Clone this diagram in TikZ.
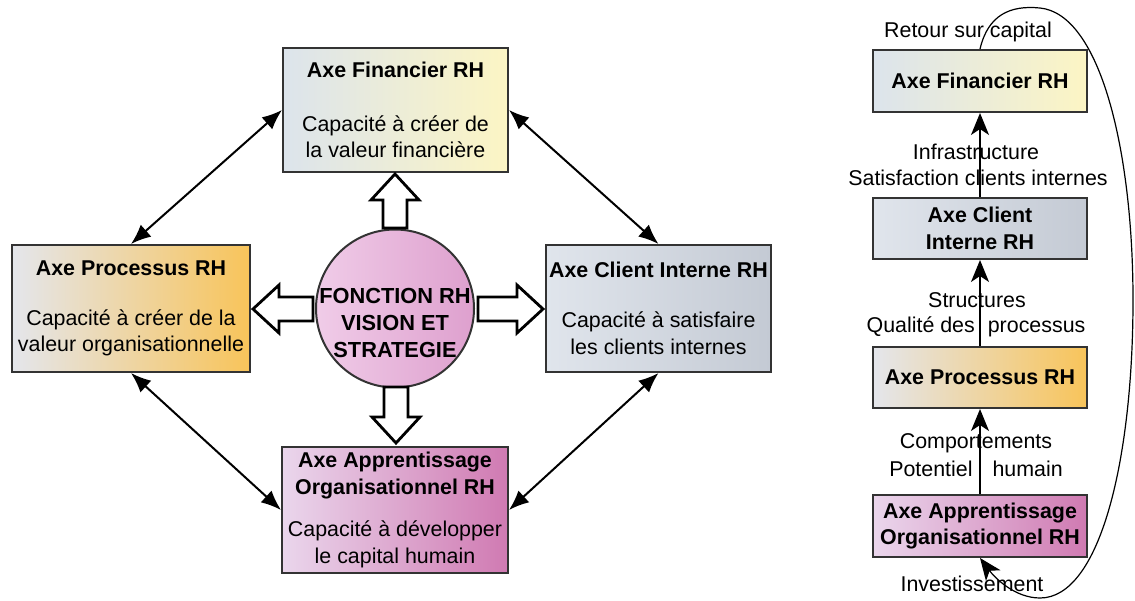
\documentclass[tikz,border=0pt]{standalone}
\usepackage{fontspec}
\setmainfont{Liberation Sans}
\usetikzlibrary{arrows.meta}
\definecolor{HRgray}{RGB}{220,228,236}
\definecolor{HRyellow}{RGB}{252,245,196}
\definecolor{HRgray2}{RGB}{228,230,236}
\definecolor{HRorange}{RGB}{248,196,90}
\definecolor{HRgray3}{RGB}{224,229,236}
\definecolor{HRsteel}{RGB}{196,202,212}
\definecolor{HRlilac}{RGB}{234,214,236}
\definecolor{HRpink}{RGB}{208,122,178}
\definecolor{HRrose}{RGB}{240,204,232}
\definecolor{HRmauve}{RGB}{222,160,206}
\newcommand{\hollowarrow}[3]{
    \draw[hollow, shift={#1}, rotate=#2] (0,0) -- (-26,24) -- (-26,12) -- (-#3,12) -- (-#3,-12) -- (-26,-12) -- (-26,-24) -- cycle;
}
\tikzset{
    axebox/.style={draw=black!80, line width=1pt, inner sep=0pt, align=center, font=\fontsize{10.7}{13.3}\selectfont},
    finfill/.style={left color=HRgray, right color=HRyellow},
    procfill/.style={left color=HRgray2, right color=HRorange},
    clifill/.style={left color=HRgray3, right color=HRsteel},
    appfill/.style={left color=HRlilac, right color=HRpink},
    hollow/.style={draw=black, fill=white, line width=1.4pt, line join=miter},
    link/.style={black, line width=1pt, {Latex[length=10pt,width=8pt]}-{Latex[length=10pt,width=8pt]}},
    uplink/.style={black, line width=0.8pt, -{Stealth[length=11pt,width=9pt,inset=3pt]}},
    feedback/.style={black, line width=0.6pt, -{Stealth[length=11pt,width=9pt,inset=3pt]}},
    flowlabel/.style={inner sep=0pt, font=\fontsize{10.7}{13.3}\selectfont}
}
\begin{document}
\begin{tikzpicture}[x=0.5pt, y=-0.5pt]
\useasboundingbox (0,0) rectangle (1135,600);
%Center
\node[circle, draw=black!80, line width=1pt, left color=HRrose, right color=HRmauve, minimum size=79pt, inner sep=0pt] (hub) at (395,308.5) {};
\node[align=center, inner sep=0pt, font=\fontsize{10.9}{13.3}\selectfont\bfseries] (hubtext) at (395,323) {FONCTION RH\\VISION ET\\STRATEGIE};
%Four axes
\node[axebox, finfill, minimum width=112.5pt, minimum height=62pt] (fin) at (395.5,110) {\textbf{Axe Financier RH}\\[13.5pt]Capacité à créer de\\la valeur financière};
\node[axebox, procfill, minimum width=119pt, minimum height=63.5pt] (proc) at (131,308.5) {\textbf{Axe Processus RH}\\[11.7pt]Capacité à créer de la\\valeur organisationnelle};
\node[axebox, clifill, minimum width=112.5pt, minimum height=63.5pt] (cli) at (658.5,308.5) {\textbf{Axe Client Interne RH}\\[11.7pt]Capacité à satisfaire\\les clients internes};
\node[axebox, appfill, minimum width=113pt, minimum height=63pt] (app) at (395,510) {\textbf{Axe Apprentissage}\\\textbf{Organisationnel RH}\\[7.7pt]Capacité à développer\\le capital humain};
%Block arrows
\hollowarrow{(395,174)}{90}{54}
\hollowarrow{(253,309)}{180}{60}
\hollowarrow{(543,309)}{0}{65}
\hollowarrow{(396,443)}{-90}{56}
%Links
\draw[link] (fin.west) -- (proc.north);
\draw[link] (fin.east) -- (cli.north);
\draw[link] (proc.south) -- (app.west);
\draw[link] (cli.south) -- (app.east);
%Right chain
\node[axebox, finfill, minimum width=107pt, minimum height=31pt] (finR) at (980,81) {\textbf{Axe Financier RH}};
\node[axebox, clifill, minimum width=107pt, minimum height=30.5pt] (cliR) at (980,228.5) {\textbf{Axe Client}\\\textbf{Interne RH}};
\node[axebox, procfill, minimum width=107pt, minimum height=30.5pt] (procR) at (980,377.5) {\textbf{Axe Processus RH}};
\node[axebox, appfill, minimum width=107pt, minimum height=31pt] (appR) at (980,526) {\textbf{Axe Apprentissage}\\\textbf{Organisationnel RH}};
\draw[uplink] (cliR.north) -- (finR.south);
\draw[uplink] (procR.north) -- (cliR.south);
\draw[uplink] (appR.north) -- (procR.south);
%Labels
\node[flowlabel] (retour) at (968,32) {Retour sur capital};
\node[flowlabel] (infra) at (976,152) {Infrastructure};
\node[flowlabel] (satis) at (978,178) {Satisfaction clients internes};
\node[flowlabel] (struct) at (977,300) {Structures};
\node[flowlabel] (qualite) at (976,327) {Qualité des\hspace{6.5pt}processus};
\node[flowlabel] (comport) at (976,443) {Comportements};
\node[flowlabel] (potentiel) at (976,469) {Potentiel\hspace{10pt}humain};
\node[flowlabel] (invest) at (972,584) {Investissement};
%Feedback loop
\draw[feedback] (finR.north) .. controls (988,15) and (1010,5) .. (1040,8) .. controls (1100,14) and (1133,150) .. (1133,300) .. controls (1133,460) and (1100,598) .. (1040,598) .. controls (1015,598) and (995,578) .. (appR.south);
\end{tikzpicture}
\end{document}
